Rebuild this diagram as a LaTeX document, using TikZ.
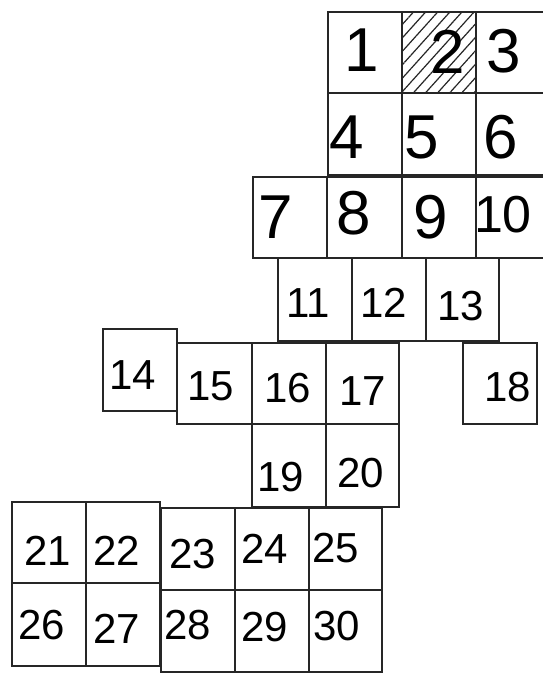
\documentclass[tikz,border=0pt]{standalone}
\usepackage{fontspec}
\setmainfont{Liberation Sans}
\usepackage{tikz}
\usetikzlibrary{patterns.meta}

\begin{document}
\begin{tikzpicture}[x=1pt,y=-1pt,
  cell/.style={draw=black!85, line width=1.8pt},
  hatched/.style={pattern={Lines[angle=48,distance=9pt,line width=1.2pt]}, pattern color=black!85},
  bignum/.style={inner sep=0pt, font=\fontsize{62}{62}\selectfont},
  midnum/.style={inner sep=0pt, font=\fontsize{52}{52}\selectfont},
  num/.style={inner sep=0pt, font=\fontsize{42}{42}\selectfont},
]
\clip (0,0) rectangle (543,673);
\fill[white] (0,0) rectangle (543,673);
% ---------- top block ----------
\fill[hatched] (401.7,12) rectangle (476,93.3);
\foreach \l/\t/\r/\b in {327.7/12/401.7/93.3, 401.7/12/476/93.3, 476/12/550/93.3,
  327.7/93.3/401.7/175, 401.7/93.3/476/175, 476/93.3/550/175,
  253.3/177.3/327.3/258.3, 327.3/177.3/401.7/258.3, 401.7/177.3/476/258.3, 476/177.3/550/258.3,
  277.7/258.3/351.7/340.7, 351.7/258.3/425.7/340.7, 425.7/258.3/499/340.7}
  \draw[cell] (\l,\t) rectangle (\r,\b);
% ---------- middle block ----------
\foreach \l/\t/\r/\b in {103.3/329.3/177.3/411, 177.3/342.7/251.7/424.3, 251.7/342.7/325.7/424.3,
  325.7/342.7/399.3/424.3, 462.7/342.7/536.7/424.3,
  251.7/424.3/325.7/507.3, 325.7/424.3/399.3/507.3}
  \draw[cell] (\l,\t) rectangle (\r,\b);
% ---------- bottom block ----------
\foreach \l/\t/\r/\b in {12.3/501.7/86/583.3, 86/501.7/160/583.3, 12.3/583.3/86/666, 86/583.3/160/666,
  160.7/508.3/234.7/590, 234.7/508.3/309/590, 309/508.3/381.7/590,
  160.7/590/234.7/671.7, 234.7/590/309/671.7, 309/590/381.7/671.7}
  \draw[cell] (\l,\t) rectangle (\r,\b);
% ---------- numbers ----------
\node[bignum] (n1) at (362,50) {1};
\node[bignum] (n2) at (447.5,52) {2};
\node[bignum] (n3) at (504,51) {3};
\node[bignum] (n4) at (347,137.5) {4};
\node[bignum] (n5) at (421.7,137.5) {5};
\node[bignum] (n6) at (501,137) {6};
\node[bignum] (n7) at (276,217) {7};
\node[bignum] (n8) at (354,213.5) {8};
\node[bignum] (n9) at (431,217) {9};
\node[midnum] (n10) at (503,214.5) {10};
\node[num] (n11) at (308,303) {11};
\node[num] (n12) at (384,303) {12};
\node[num] (n13) at (461,306) {13};
\node[num] (n14) at (132.5,375) {14};
\node[num] (n15) at (211,386.7) {15};
\node[num] (n16) at (287.5,388) {16};
\node[num] (n17) at (363,391) {17};
\node[num] (n18) at (507.5,386.7) {18};
\node[num] (n19) at (281,476.7) {19};
\node[num] (n20) at (360.7,473) {20};
\node[num] (n21) at (47.5,551) {21};
\node[num] (n22) at (116.7,551) {22};
\node[num] (n23) at (192.5,554) {23};
\node[num] (n24) at (265,549) {24};
\node[num] (n25) at (336,548) {25};
\node[num] (n26) at (41.7,625) {26};
\node[num] (n27) at (116.7,629) {27};
\node[num] (n28) at (188,625) {28};
\node[num] (n29) at (265,627) {29};
\node[num] (n30) at (336.7,626) {30};
\end{tikzpicture}
\end{document}
